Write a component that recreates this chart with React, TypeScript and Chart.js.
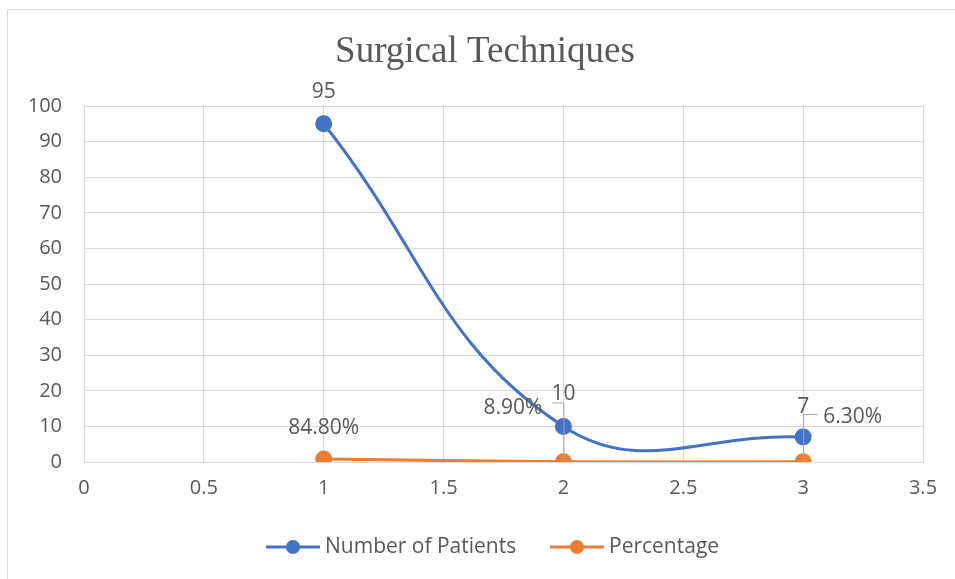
import React, { useEffect, useRef } from "react";
import { Chart, registerables } from "chart.js";

Chart.register(...registerables);

const xValues = [1, 2, 3];
const patients = [95, 10, 7];
const percentage = [0.848, 0.089, 0.063];
const patientLabels = ["95", "10", "7"];
const percentLabels = ["84.80%", "8.90%", "6.30%"];
const seriesNames = ["Number of Patients", "Percentage"];
const titleText = "Surgical Techniques";

const BLUE = "#4472C4";
const ORANGE = "#ED7D31";
const TEXT = "#595959";
const GRID = "#D9D9D9";
const FONT = "'Open Sans', 'Noto Sans', sans-serif";

const overlay = {
  id: "overlay",
  afterDraw(chart: any) {
    const ctx = chart.ctx;
    ctx.save();
    // outer border
    ctx.strokeStyle = GRID;
    ctx.lineWidth = 1;
    ctx.beginPath();
    ctx.moveTo(7.5, 600);
    ctx.lineTo(7.5, 9.5);
    ctx.lineTo(960, 9.5);
    ctx.stroke();

    // title
    ctx.fillStyle = TEXT;
    ctx.font = "37px 'Liberation Serif', 'Times New Roman', serif";
    ctx.textAlign = "center";
    ctx.textBaseline = "alphabetic";
    ctx.fillText(titleText, 485, 62);

    const m0 = chart.getDatasetMeta(0).data;
    const m1 = chart.getDatasetMeta(1).data;
    ctx.font = "21px " + FONT;
    ctx.fillStyle = TEXT;
    ctx.textBaseline = "middle";

    // leader lines
    ctx.strokeStyle = "#A6A6A6";
    ctx.lineWidth = 1;
    ctx.beginPath();
    ctx.moveTo(m0[1].x - 11, m0[1].y - 23.5);
    ctx.lineTo(m0[1].x + 0.5, m0[1].y - 23.5);
    ctx.lineTo(m0[1].x + 0.5, m1[1].y);
    ctx.moveTo(m0[2].x + 14, m0[2].y - 22.5);
    ctx.lineTo(m0[2].x + 0.5, m0[2].y - 22.5);
    ctx.lineTo(m0[2].x + 0.5, m1[2].y);
    ctx.stroke();

    // patient labels
    ctx.textAlign = "center";
    ctx.fillText(patientLabels[0], m0[0].x, m0[0].y - 32);
    ctx.fillText(patientLabels[1], m0[1].x, m0[1].y - 32);
    ctx.fillText(patientLabels[2], m0[2].x, m0[2].y - 30);
    // percent labels
    ctx.fillText(percentLabels[0], m1[0].x, m1[0].y - 31);
    ctx.textAlign = "right";
    ctx.fillText(percentLabels[1], m1[1].x - 21, m1[1].y - 54);
    ctx.textAlign = "left";
    ctx.fillText(percentLabels[2], m1[2].x + 20, m1[2].y - 45);

    // legend
    const items = [
      { color: BLUE, x: 266, name: seriesNames[0] },
      { color: ORANGE, x: 550, name: seriesNames[1] },
    ];
    const ly = 547;
    items.forEach((it) => {
      ctx.strokeStyle = it.color;
      ctx.lineWidth = 3;
      ctx.beginPath();
      ctx.moveTo(it.x, ly);
      ctx.lineTo(it.x + 54, ly);
      ctx.stroke();
      ctx.fillStyle = it.color;
      ctx.beginPath();
      ctx.arc(it.x + 27, ly, 7, 0, Math.PI * 2);
      ctx.fill();
      ctx.fillStyle = TEXT;
      ctx.textAlign = "left";
      ctx.textBaseline = "middle";
      ctx.fillText(it.name, it.x + 59, ly);
    });
    ctx.restore();
  },
};

export default function App() {
  const ref = useRef<HTMLCanvasElement>(null);
  useEffect(() => {
    document.body.style.margin = "0";
    const chart = new Chart(ref.current!, {
      type: "line",
      data: {
        datasets: [
          {
            label: seriesNames[0],
            data: xValues.map((x, i) => ({ x, y: patients[i] })),
            borderColor: BLUE,
            backgroundColor: BLUE,
            borderWidth: 3,
            pointRadius: 7,
            pointHoverRadius: 7,
            tension: 0.42,
            capBezierPoints: false,
          } as any,
          {
            label: seriesNames[1],
            data: xValues.map((x, i) => ({ x, y: percentage[i] })),
            borderColor: ORANGE,
            backgroundColor: ORANGE,
            borderWidth: 3,
            pointRadius: 7,
            pointHoverRadius: 7,
            tension: 0.42,
            capBezierPoints: false,
          } as any,
        ],
      },
      options: {
        animation: false,
        responsive: false,
        maintainAspectRatio: false,
        layout: { padding: { top: 106, right: 32, bottom: 0, left: 0 } },
        plugins: {
          legend: { display: false },
          title: { display: false },
          tooltip: { enabled: false },
        },
        scales: {
          x: {
            type: "linear",
            min: 0,
            max: 3.5,
            ticks: {
              stepSize: 0.5,
              color: TEXT,
              font: { size: 20, family: FONT },
              padding: 14,
              callback: (v: any) => String(Number(v)),
            },
            grid: { color: GRID, drawTicks: false, lineWidth: 1 },
            border: { color: GRID },
            afterFit: (s: any) => {
              s.height = 117;
            },
          },
          y: {
            min: 0,
            max: 100,
            ticks: {
              stepSize: 10,
              color: TEXT,
              font: { size: 20, family: FONT },
              padding: 22,
            },
            grid: { color: GRID, drawTicks: false, lineWidth: 1 },
            border: { color: GRID },
            afterFit: (s: any) => {
              s.width = 84;
            },
          },
        },
      },
      plugins: [overlay],
    });
    return () => chart.destroy();
  }, []);
  return (
    <div style={{ position: "absolute", left: 0, top: 0, width: 955, height: 579, background: "#fff" }}>
      <canvas ref={ref} width={955} height={579} />
    </div>
  );
}
